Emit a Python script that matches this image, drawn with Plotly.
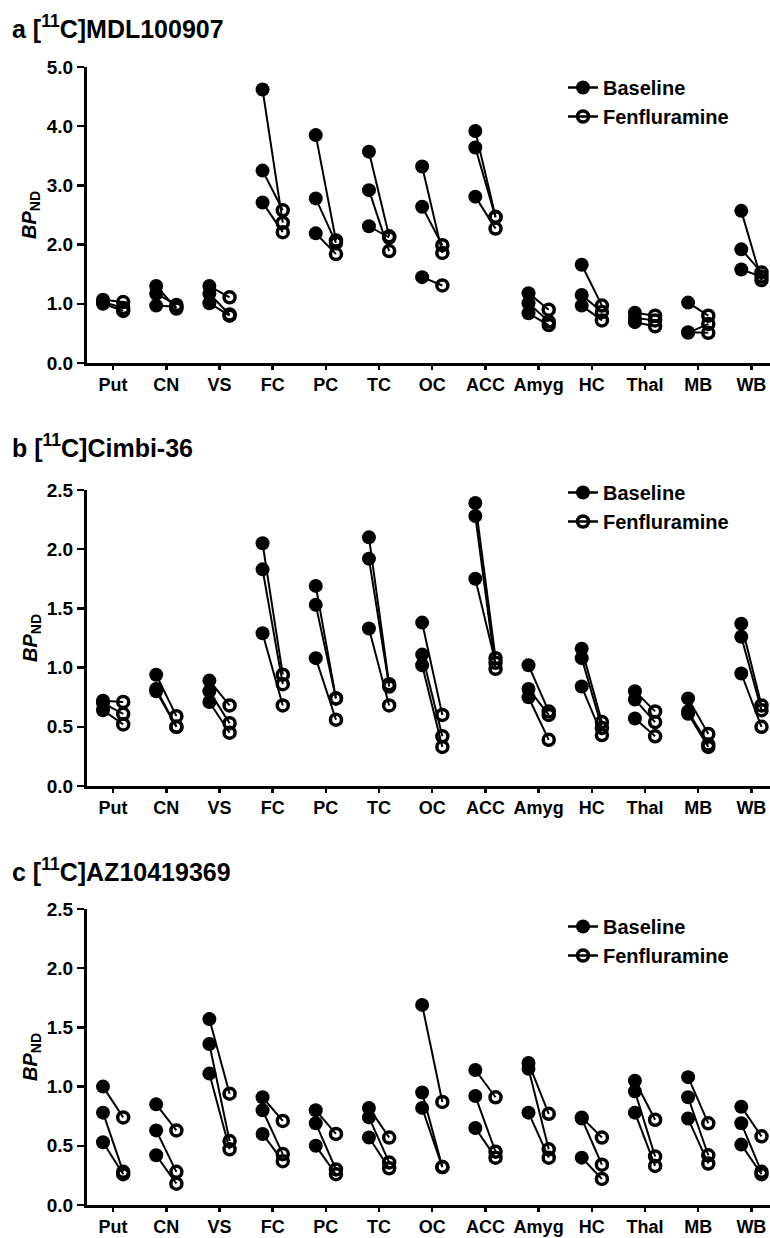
import plotly.graph_objects as go

regions = ["Put", "CN", "VS", "FC", "PC", "TC", "OC", "ACC", "Amyg", "HC", "Thal", "MB", "WB"]

# Panel a: [11C]MDL100907  (3 subjects per region)
a_base = [[1.07, 1.03, 1.00], [1.30, 1.17, 0.97], [1.30, 1.17, 1.01], [4.62, 3.25, 2.71],
          [3.85, 2.78, 2.19], [3.57, 2.92, 2.31], [3.32, 2.64, 1.45], [3.92, 3.64, 2.81],
          [1.18, 1.01, 0.84], [1.66, 1.15, 0.97], [0.85, 0.76, 0.69], [1.02, 0.52, 0.51],
          [2.57, 1.92, 1.58]]
a_fen = [[1.03, 0.93, 0.88], [0.92, 0.98, 0.95], [1.11, 0.82, 0.80], [2.37, 2.58, 2.21],
         [2.07, 2.03, 1.84], [2.14, 1.89, 2.12], [1.86, 1.99, 1.31], [2.47, 2.46, 2.27],
         [0.90, 0.70, 0.64], [0.97, 0.86, 0.72], [0.80, 0.72, 0.62], [0.80, 0.51, 0.66],
         [1.40, 1.53, 1.46]]

# Panel b: [11C]Cimbi-36
b_base = [[0.72, 0.70, 0.64], [0.94, 0.82, 0.80], [0.89, 0.80, 0.71], [2.05, 1.83, 1.29],
          [1.69, 1.53, 1.08], [2.10, 1.92, 1.33], [1.38, 1.11, 1.02], [2.39, 2.28, 1.75],
          [1.02, 0.82, 0.75], [1.16, 1.08, 0.84], [0.80, 0.73, 0.57], [0.74, 0.63, 0.61],
          [1.37, 1.26, 0.95]]
b_fen = [[0.71, 0.61, 0.52], [0.59, 0.50, 0.50], [0.68, 0.53, 0.45], [0.94, 0.86, 0.68],
         [0.74, 0.74, 0.56], [0.86, 0.84, 0.68], [0.60, 0.42, 0.33], [1.08, 0.99, 1.04],
         [0.63, 0.60, 0.39], [0.54, 0.49, 0.43], [0.63, 0.54, 0.42], [0.44, 0.35, 0.33],
         [0.68, 0.64, 0.50]]

# Panel c: [11C]AZ10419369
c_base = [[1.00, 0.78, 0.53], [0.85, 0.63, 0.42], [1.57, 1.36, 1.11], [0.91, 0.80, 0.60],
          [0.80, 0.69, 0.50], [0.82, 0.74, 0.57], [1.69, 0.95, 0.82], [1.14, 0.92, 0.65],
          [1.20, 1.15, 0.78], [0.74, 0.73, 0.40], [1.05, 0.96, 0.78], [1.08, 0.91, 0.73],
          [0.83, 0.69, 0.51]]
c_fen = [[0.74, 0.28, 0.26], [0.63, 0.28, 0.18], [0.94, 0.54, 0.47], [0.71, 0.43, 0.37],
         [0.60, 0.30, 0.26], [0.57, 0.36, 0.31], [0.87, 0.32, 0.32], [0.91, 0.45, 0.40],
         [0.77, 0.47, 0.40], [0.57, 0.34, 0.22], [0.72, 0.41, 0.33], [0.69, 0.42, 0.35],
         [0.58, 0.28, 0.26]]

titles = ["a [<sup>11</sup>C]MDL100907", "b [<sup>11</sup>C]Cimbi-36", "c [<sup>11</sup>C]AZ10419369"]
y_max = [5.0, 2.5, 2.5]
y_dtick = [1.0, 0.5, 0.5]

W, H = 770, 1238
FONT = "Liberation Sans, Arial, sans-serif"
OFF = 0.19


def px_x(px):
    return px / W


def px_y(py):
    return 1 - py / H


# pixel geometry of each panel: (top of y-range, zero line)
panel_px = [(67, 363), (490, 786), (909, 1205)]
title_px = [27, 446, 870]
legend_px = [68, 473, 907]
x_left_px = 86.5
x_right_px = 770

fig = go.Figure()
panels = [(a_base, a_fen), (b_base, b_fen), (c_base, c_fen)]
for p, (base, fen) in enumerate(panels):
    xa = "x" if p == 0 else f"x{p+1}"
    ya = "y" if p == 0 else f"y{p+1}"
    leg = "legend" if p == 0 else f"legend{p+1}"
    lx, ly = [], []
    bx, by, fx, fy = [], [], [], []
    for i, r in enumerate(regions):
        for b, f in zip(base[i], fen[i]):
            lx += [i - OFF, i + OFF, None]
            ly += [b, f, None]
            bx += [i - OFF, None]
            by += [b, None]
            fx += [i + OFF, None]
            fy += [f, None]
    fig.add_trace(go.Scatter(x=lx, y=ly, mode="lines", line=dict(color="black", width=2),
                             showlegend=False, xaxis=xa, yaxis=ya, hoverinfo="skip",
                             cliponaxis=False))
    fig.add_trace(go.Scatter(x=bx, y=by, mode="lines+markers", name="Baseline",
                             line=dict(color="black", width=2.5),
                             marker=dict(symbol="circle", size=14, color="black"),
                             xaxis=xa, yaxis=ya, legend=leg, cliponaxis=False))
    fig.add_trace(go.Scatter(x=fx, y=fy, mode="lines+markers", name="Fenfluramine",
                             line=dict(color="black", width=2.5),
                             marker=dict(symbol="circle-open", size=11, color="black",
                                         line=dict(width=3.5, color="black")),
                             xaxis=xa, yaxis=ya, legend=leg, cliponaxis=False))

layout = dict(width=W, height=H, paper_bgcolor="white", plot_bgcolor="white",
              margin=dict(l=0, r=0, t=0, b=0, autoexpand=False),
              font=dict(family=FONT, color="black"), annotations=[])
for p in range(3):
    top, bot = panel_px[p]
    xk = "xaxis" if p == 0 else f"xaxis{p+1}"
    yk = "yaxis" if p == 0 else f"yaxis{p+1}"
    lk = "legend" if p == 0 else f"legend{p+1}"
    ya = "y" if p == 0 else f"y{p+1}"
    xa = "x" if p == 0 else f"x{p+1}"
    layout[xk] = dict(domain=[px_x(x_left_px), px_x(x_right_px)], range=[-0.5, 12.35],
                      anchor=ya, automargin=False,
                      tickmode="array", tickvals=list(range(len(regions))), ticktext=regions,
                      ticks="outside", ticklen=4, tickwidth=2.5, tickcolor="black",
                      showline=True, linewidth=2.5, linecolor="black", showgrid=False,
                      zeroline=False, tickfont=dict(family=FONT, size=18, color="black",
                                                    weight="bold"))
    layout[yk] = dict(domain=[px_y(bot), px_y(top)], range=[0, y_max[p]], anchor=xa,
                      automargin=False, dtick=y_dtick[p], tick0=0, tickformat=".1f",
                      ticks="outside", ticklen=7, tickwidth=2.5, tickcolor="black",
                      showline=True, linewidth=2.5, linecolor="black", showgrid=False,
                      zeroline=False, tickfont=dict(family=FONT, size=19, color="black",
                                                    weight="bold"))
    layout[lk] = dict(x=px_x(563), y=px_y(legend_px[p]), xanchor="left", yanchor="top",
                      bgcolor="rgba(0,0,0,0)", borderwidth=0,
                      font=dict(family=FONT, size=20, color="black", weight="bold"))
    layout["annotations"].append(dict(text=f"<b>{titles[p]}</b>", xref="paper", yref="paper",
                                      x=px_x(10), y=px_y(title_px[p]), xanchor="left",
                                      yanchor="middle", showarrow=False,
                                      font=dict(family=FONT, size=25, color="black")))
    layout["annotations"].append(dict(text="<b><i>BP</i><sub>ND</sub></b>", xref="paper",
                                      yref="paper", x=px_x(31), y=px_y((top + bot) / 2),
                                      xanchor="center", yanchor="middle", textangle=-90,
                                      showarrow=False,
                                      font=dict(family=FONT, size=20, color="black")))
fig.update_layout(**layout)
fig.write_html("out.html", config={"displayModeBar": False, "staticPlot": True},
               post_script="document.body.style.margin='0';document.body.style.overflow='hidden';")
